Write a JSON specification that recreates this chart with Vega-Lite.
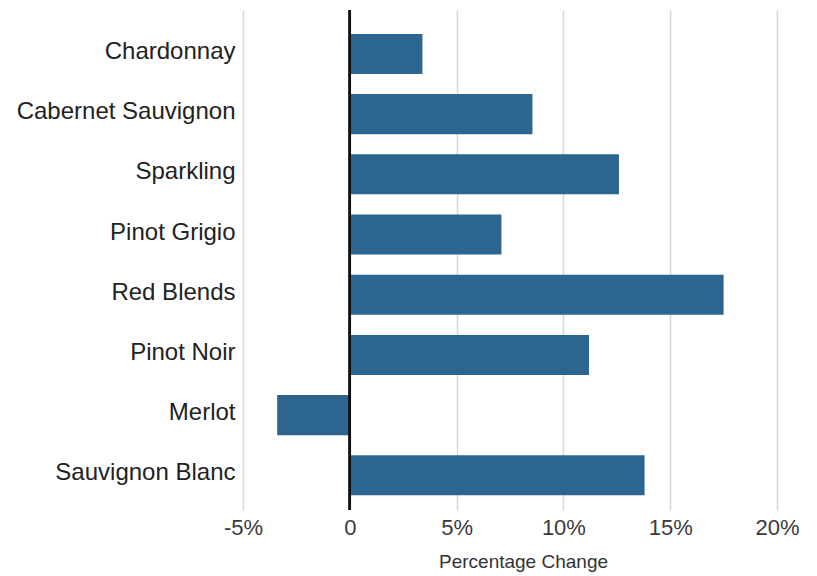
{
  "$schema": "https://vega.github.io/schema/vega-lite/v6.json",
  "width": 534,
  "height": 500,
  "padding": {"left": 243, "top": 10, "right": 40, "bottom": 66},
  "autosize": {"type": "none"},
  "background": "white",
  "config": {"view": {"stroke": null}, "font": "Liberation Sans"},
  "data": {
    "values": [
      {"variety": "Chardonnay", "change": 3.4},
      {"variety": "Cabernet Sauvignon", "change": 8.55},
      {"variety": "Sparkling", "change": 12.6},
      {"variety": "Pinot Grigio", "change": 7.1},
      {"variety": "Red Blends", "change": 17.5},
      {"variety": "Pinot Noir", "change": 11.2},
      {"variety": "Merlot", "change": -3.4},
      {"variety": "Sauvignon Blanc", "change": 13.8}
    ]
  },
  "layer": [
    {
      "mark": {"type": "bar", "color": "#2b6590"},
      "encoding": {
        "y": {
          "field": "variety",
          "type": "nominal",
          "sort": null,
          "scale": {"paddingInner": 0.335, "paddingOuter": 0.32, "align": 0.62},
          "axis": {
            "title": null,
            "domain": false,
            "ticks": false,
            "labelFontSize": 24,
            "labelColor": "#222",
            "labelPadding": 8,
            "labelOffset": -2,
            "labelLimit": 400
          }
        },
        "x": {
          "field": "change",
          "type": "quantitative",
          "scale": {"domain": [-5, 20], "nice": false},
          "axis": {
            "title": "Percentage Change",
            "titleFontSize": 19,
            "titleFontWeight": "normal",
            "titleColor": "#333",
            "titleX": 280,
            "titlePadding": 14,
            "values": [-5, 0, 5, 10, 15, 20],
            "labelExpr": "datum.value == 0 ? '0' : datum.value + '%'",
            "labelFontSize": 22,
            "labelColor": "#3a3a3a",
            "labelPadding": 7,
            "labelFlush": false,
            "domain": false,
            "ticks": false,
            "grid": true,
            "gridColor": "#d8d8d8",
            "gridWidth": 1.5
          }
        }
      }
    },
    {
      "mark": {"type": "rule", "color": "#111", "strokeWidth": 2},
      "encoding": {"x": {"datum": 0}}
    }
  ]
}
